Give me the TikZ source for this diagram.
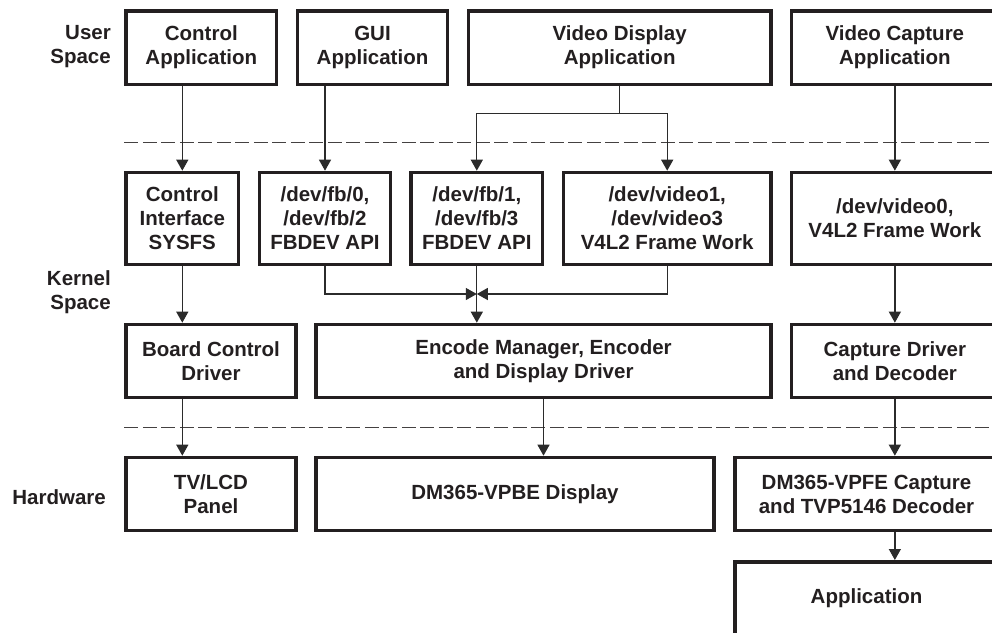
\documentclass[tikz,border=0pt]{standalone}
\usepackage{fontspec}
\setmainfont{Liberation Sans}
\usetikzlibrary{arrows.meta}
\definecolor{ink}{HTML}{231F20}
\definecolor{wire}{HTML}{2B2B2B}
\begin{document}
\begin{tikzpicture}[x=1pt,y=-1pt,
  box/.style={draw=ink,line width=3.5pt,inner sep=0pt,align=center,
    font=\fontsize{20.5}{24}\selectfont\bfseries,text=ink},
  layer/.style={align=right,inner sep=0pt,anchor=east,
    font=\fontsize{20.5}{24}\selectfont\bfseries,text=ink},
  flow/.style={draw=wire,line width=1.3pt,
    -{Triangle[width=12pt,length=11pt]}},
  wire/.style={draw=wire,line width=1.3pt},
  divider/.style={draw=ink!85,line width=1.3pt,dash pattern=on 14pt off 4.5pt}]
\clip (0,0) rectangle (992,632);

% layer labels
\node[layer] (lu) at (111,47) {User\\Space};
\node[layer] (lk) at (111,292) {Kernel\\Space};
\node[layer] (lh) at (106,497) {Hardware};

% layer boundaries
\draw[divider] (124.3,142.3) -- (1000,142.3);
\draw[divider] (124.3,427.3) -- (1000,427.3);

% user space
\node[box,minimum width=150.5pt,minimum height=73.5pt] (ctrlapp) at (201.3,47.5) {Control\\Application};
\node[box,minimum width=150.1pt,minimum height=73.5pt] (guiapp) at (372.5,47.5) {GUI\\Application};
\node[box,minimum width=302.5pt,minimum height=73.5pt] (vidapp) at (619.7,47.5) {Video Display\\Application};
\node[box,minimum width=206.8pt,minimum height=73.5pt] (capapp) at (894.85,47.5) {Video Capture\\Application};

% kernel interfaces
\node[box,minimum width=112.5pt,minimum height=91.8pt] (sysfs) at (182.3,218.35) {Control\\Interface\\SYSFS};
\node[box,minimum width=131.1pt,minimum height=91.8pt] (fbA) at (325,218.35) {/dev/fb/0,\\/dev/fb/2\\FBDEV API};
\node[box,minimum width=131.5pt,minimum height=91.8pt] (fbB) at (476.8,218.35) {/dev/fb/1,\\/dev/fb/3\\FBDEV API};
\node[box,minimum width=207.5pt,minimum height=91.8pt] (vidB) at (667.2,218.35) {/dev/video1,\\/dev/video3\\V4L2 Frame Work};
\node[box,minimum width=206.8pt,minimum height=91.8pt] (vidA) at (894.85,218.35) {/dev/video0,\\V4L2 Frame Work};

% kernel drivers
\node[box,minimum width=169.9pt,minimum height=73.1pt] (board) at (211,361) {Board Control\\Driver};
\node[box,minimum width=454.9pt,minimum height=73.1pt] (encode) at (543.5,361) {Encode Manager, Encoder\\and Display Driver};
\node[box,minimum width=206.8pt,minimum height=73.1pt] (capdrv) at (894.85,361) {Capture Driver\\and Decoder};

% hardware
\node[box,minimum width=169.9pt,minimum height=73.1pt] (panel) at (211,494) {TV/LCD\\Panel};
\node[box,minimum width=397.9pt,minimum height=73.1pt] (vpbe) at (515,494) {DM365-VPBE Display};
\node[box,minimum width=263.5pt,minimum height=73.1pt] (vpfe) at (866.5,494) {DM365-VPFE Capture\\and TVP5146 Decoder};
\node[box,minimum width=263.5pt,minimum height=72.5pt] (app) at (866.5,598) {Application};

% user space to kernel
\draw[flow] (sysfs.north |- ctrlapp.south) -- (sysfs.north);
\draw[flow] (fbA.north |- guiapp.south) -- (fbA.north);
\coordinate (split) at (619.7,113.7);
\draw[wire] (vidapp.south) -- (split);
\draw[flow] (split) -| (fbB.north);
\draw[flow] (split) -| (vidB.north);
\draw[flow] (capapp.south) -- (vidA.north);

% interfaces to drivers
\coordinate (join) at (476.8,294);
\draw[flow] (sysfs.south) -- (sysfs.south |- board.north);
\draw[flow] (fbA.south) |- (join);
\draw[flow] (vidB.south) |- (join);
\draw[flow] (fbB.south) -- (encode.north -| fbB.south);
\draw[flow] (vidA.south) -- (capdrv.north);

% drivers to hardware
\draw[flow] (sysfs.south |- board.south) -- (sysfs.south |- panel.north);
\draw[flow] (encode.south) -- (encode.south |- vpbe.north);
\draw[flow] (capdrv.south) -- (capdrv.south |- vpfe.north);
\draw[flow] (capdrv.south |- vpfe.south) -- (capdrv.south |- app.north);
\end{tikzpicture}
\end{document}
